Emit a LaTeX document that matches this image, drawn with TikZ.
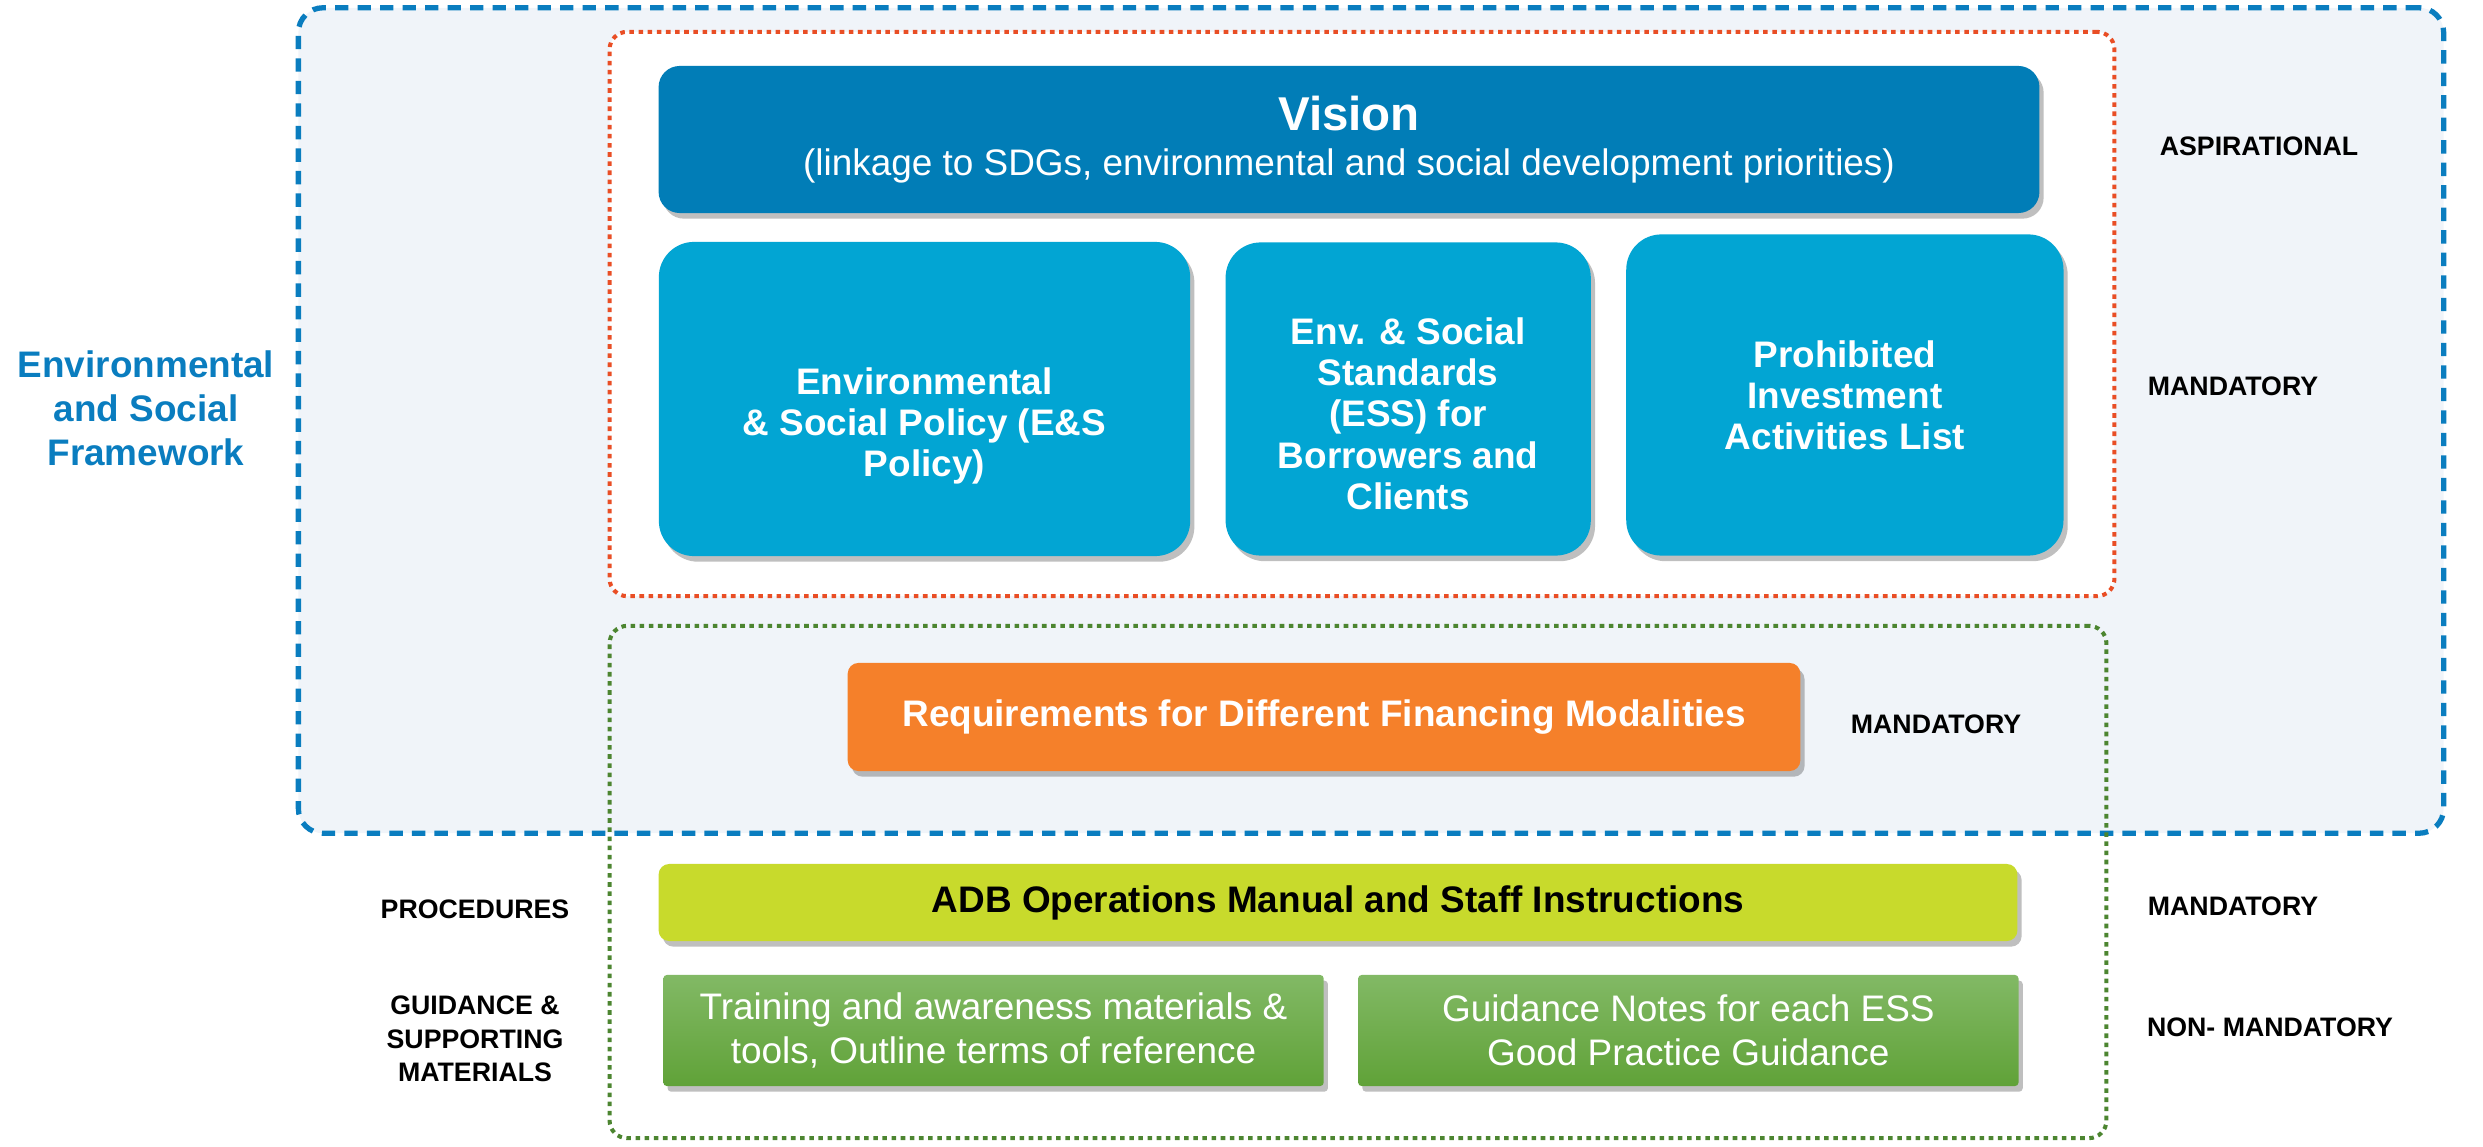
\documentclass[tikz,border=0pt]{standalone}
\usepackage{fontspec}
\setmainfont{Liberation Sans}
\usetikzlibrary{positioning, shadows}

\definecolor{esfblue}{HTML}{0A7DBF}
\definecolor{esfbg}{HTML}{F0F4F9}
\definecolor{redline}{HTML}{E94E25}
\definecolor{greenline}{HTML}{4C8530}
\definecolor{visionblue}{HTML}{017DB7}
\definecolor{boxblue}{HTML}{02A5D3}
\definecolor{reqorange}{HTML}{F5802A}
\definecolor{adblime}{HTML}{C8DA2C}
\definecolor{guidetop}{HTML}{82B965}
\definecolor{guidebot}{HTML}{60A238}

\begin{document}
\begin{tikzpicture}[
    x=0.01cm, y=-0.01cm,
    node distance=0.34cm,
    frame/.style={draw=esfblue, line width=1.5pt, dash pattern=on 3.8pt off 2.6pt, rounded corners=7pt, fill=esfbg, inner sep=0pt},
    dotbox/.style={line width=1.15pt, dash pattern=on 1.3pt off 1.3pt, rounded corners=5pt, inner sep=0pt},
    shade/.style={drop shadow={shadow xshift=1.2pt, shadow yshift=-1.6pt, opacity=0.25, fill=black}},
    bigbox/.style={fill=boxblue, rounded corners=10pt, shade, text=white, align=center, font=\fontsize{10.5}{11.7}\selectfont\bfseries},
    barbox/.style={rounded corners=3pt, shade, align=center, font=\fontsize{10.5}{12.4}\selectfont\bfseries},
    guidebox/.style={top color=guidetop, bottom color=guidebot, rounded corners=1pt, shade, text=white, align=center, minimum width=6.6cm, minimum height=1.11cm, font=\fontsize{10.5}{12.4}\selectfont},
    tag/.style={align=center, font=\fontsize{7.6}{9.5}\selectfont\bfseries}]
    \useasboundingbox (0,0) rectangle (2483,1146);
    % Frames
    \node[frame, minimum width=21.44cm, minimum height=8.25cm] (esf) at (1371,420.5) {};
    \node[dotbox, draw=redline, fill=white, minimum width=15.04cm, minimum height=5.64cm] (core) at (1362,314) {};
    \node[dotbox, draw=greenline, minimum width=14.96cm, minimum height=5.12cm] (support) at (1358,882) {};
    % Nodes
    \node[fill=visionblue, rounded corners=6pt, shade, text=white, align=center, minimum width=13.8cm, minimum height=1.47cm,
        font=\fontsize{10.5}{12.8}\selectfont] (vision) at (1349,139.5)
        {{\fontsize{13.5}{14}\selectfont\bfseries Vision}\\(linkage to SDGs, environmental and social development priorities)};
    \node[bigbox, minimum width=5.31cm, minimum height=3.14cm] (policy) at (924.5,399) {\rule{0pt}{23pt}Environmental\\\& Social Policy (E\&S\\Policy)};
    \node[bigbox, minimum width=3.65cm, minimum height=3.13cm, right=of policy] (ess) {\rule{0pt}{16pt}Env. \& Social\\Standards\\(ESS) for\\Borrowers and\\Clients};
    \node[bigbox, minimum width=4.37cm, minimum height=3.21cm, right=of ess, yshift=0.04cm] (prohibited) {Prohibited\\Investment\\Activities List};
    \node[barbox, fill=reqorange, text=white, minimum width=9.52cm, minimum height=1.08cm] (modalities) at (1324,717) {Requirements for Different Financing Modalities};
    \node[barbox, fill=adblime, minimum width=13.58cm, minimum height=0.77cm] (manual) at (1338,902.5) {ADB Operations Manual and Staff Instructions};
    \node[guidebox] (training) at (993.5,1030.5) {Training and awareness materials \&\\tools, Outline terms of reference};
    \node[guidebox, right=0.33cm of training] (notes) {Guidance Notes for each ESS\\Good Practice Guidance};
    % Labels
    \node[align=center, text=esfblue, font=\fontsize{10.5}{12.5}\selectfont\bfseries] (esflabel) at (146,408) {Environmental\\and Social\\Framework};
    \node[tag] (aspir) at (2259,146) {ASPIRATIONAL};
    \node[tag] (mandcore) at (2233,386) {MANDATORY};
    \node[tag] (mandreq) at (1936,724) {MANDATORY};
    \node[tag] (mandproc) at (2233,906) {MANDATORY};
    \node[tag] (nonmand) at (2270,1027) {NON- MANDATORY};
    \node[tag] (proc) at (475,909) {PROCEDURES};
    \node[tag] (guide) at (475,1039) {GUIDANCE \&\\SUPPORTING\\MATERIALS};
\end{tikzpicture}
\end{document}
